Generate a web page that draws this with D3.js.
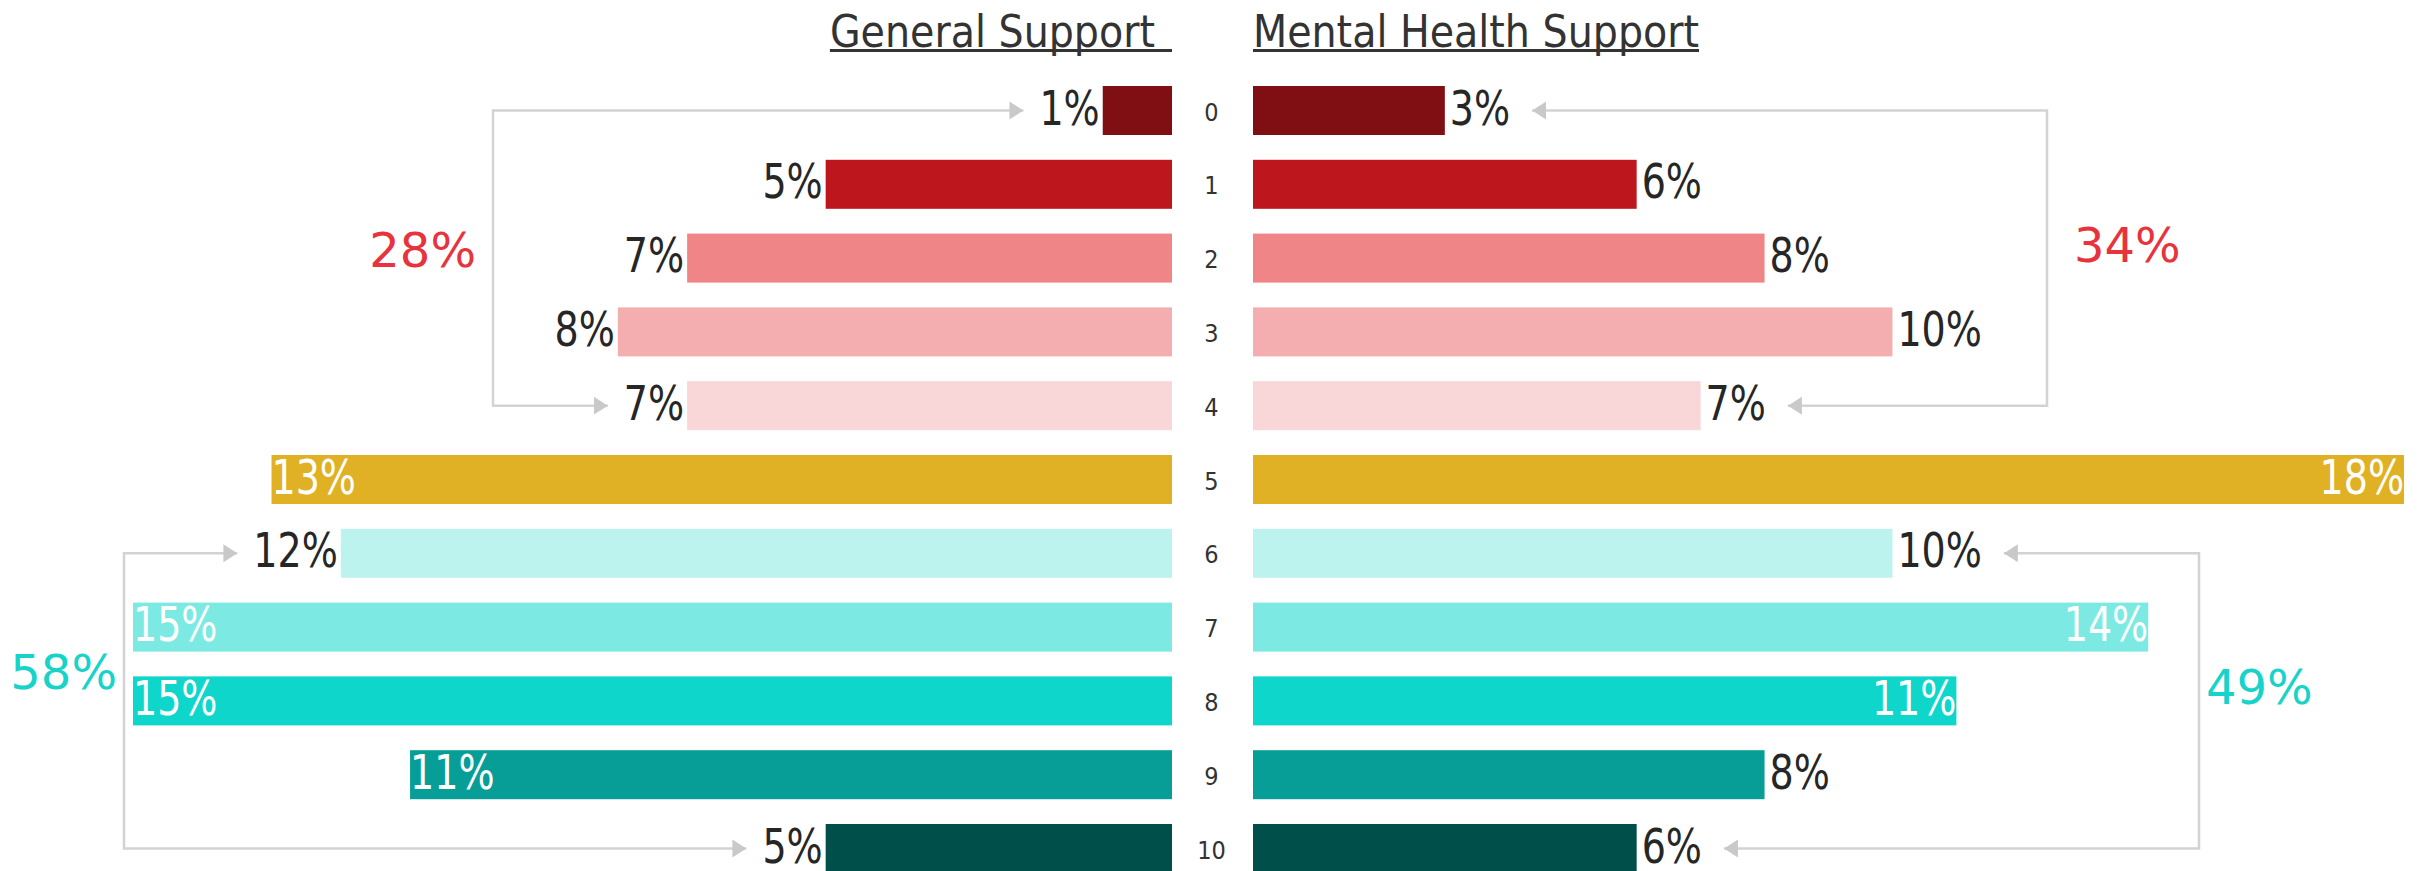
<!DOCTYPE html>
<html>
<head>
<meta charset="utf-8">
<script src="https://cdn.jsdelivr.net/npm/d3@7"></script>
<style>
    body { margin: 0; background: #fff; }
    text { font-family: "DejaVu Sans", sans-serif; }
    .cond { font-family: "DejaVu Sans Condensed", "DejaVu Sans", sans-serif; font-stretch: condensed; }
</style>
</head>
<body>
<svg id="chart"></svg>
<script>
'use strict'

// ---- data ----
const categories = ['0', '1', '2', '3', '4', '5', '6', '7', '8', '9', '10']
const generalSupport = [1, 5, 7, 8, 7, 13, 12, 15, 15, 11, 5]
const mentalHealthSupport = [3, 6, 8, 10, 7, 18, 10, 14, 11, 8, 6]
const rowColors = ['#7f0f12', '#bd161c', '#f08587', '#f4aeb0', '#f9d6d7', '#e1b125',
    '#bdf3ef', '#7ceae2', '#0fd6cb', '#079e98', '#014f4a']
const seriesTitles = ['General Support', 'Mental Health Support']
// brackets: first and last category of each bracketed group
const groupRanges = [[0, 4], [6, 10]]
const groupColors = ['#e8323c', '#17d3c9']

// ---- layout ----
const width = 2432
const height = 871
const leftEdge = 1172     // where the left bars start (growing leftwards)
const rightEdge = 1253    // where the right bars start
const labelSize = 48
const labelSquash = 0.88  // value labels are narrower than DejaVu Condensed

const svg = d3.select('#chart').attr('width', width).attr('height', height)

const y = d3.scaleBand()
    .domain(categories)
    .range([73.6, 73.6 + 11 * 73.8])
    .paddingInner(0.336)
    .paddingOuter(0.168)

const xLeft = d3.scaleLinear().domain([0, d3.max(generalSupport)]).range([0, 1039])
const xRight = d3.scaleLinear().domain([0, d3.max(mentalHealthSupport)]).range([0, 1151])

function isDark(c) {
    return d3.hsl(c).l < 0.8
}

const defs = svg.append('defs')
defs.append('marker')
    .attr('id', 'arrow')
    .attr('viewBox', '0 0 14 18')
    .attr('refX', 14)
    .attr('refY', 9)
    .attr('markerWidth', 14)
    .attr('markerHeight', 18)
    .attr('markerUnits', 'userSpaceOnUse')
    .attr('orient', 'auto-start-reverse')
    .append('path')
    .attr('d', 'M0,0 L14,9 L0,18 Z')
    .attr('fill', '#c9c9c9')

// one side of the butterfly
function drawSide(values, x, side) {
    const g = svg.append('g').attr('class', 'side-' + side)
    const rows = g.selectAll('g.row')
        .data(values.map(function (v, i) { return {v: v, i: i, cat: categories[i]} }))
        .join('g')
        .attr('class', 'row')

    rows.append('rect')
        .attr('x', function (d) { return side === 'left' ? leftEdge - x(d.v) : rightEdge })
        .attr('y', function (d) { return y(d.cat) })
        .attr('width', function (d) { return x(d.v) })
        .attr('height', y.bandwidth())
        .attr('fill', function (d) { return rowColors[d.i] })

    rows.append('text')
        .attr('class', 'cond val')
        .each(function (d) {
            const inside = d.v >= 11 && isDark(rowColors[d.i])
            const end = side === 'left' ? leftEdge - x(d.v) : rightEdge + x(d.v)
            let anchor, tx
            if (side === 'left') {
                anchor = inside ? 'start' : 'end'
                tx = inside ? end : end - 3
            } else {
                anchor = inside ? 'end' : 'start'
                tx = inside ? end : end + 5
            }
            const ty = y(d.cat) + y.bandwidth() / 2 + 14
            d3.select(this)
                .attr('transform', 'translate(' + tx + ',' + ty + ') scale(' + labelSquash + ',1)')
                .attr('text-anchor', anchor)
                .attr('fill', inside ? '#ffffff' : '#262626')
        })
        .attr('font-size', labelSize)
        .text(function (d) { return d.v + '%' })

    return rows
}

const leftRows = drawSide(generalSupport, xLeft, 'left')
const rightRows = drawSide(mentalHealthSupport, xRight, 'right')

// category labels in the gap
svg.append('g')
    .selectAll('text')
    .data(categories)
    .join('text')
    .attr('class', 'cond')
    .attr('x', (leftEdge + rightEdge) / 2 - 1)
    .attr('y', function (d) { return y(d) + y.bandwidth() / 2 + 10 })
    .attr('text-anchor', 'middle')
    .attr('font-size', 25)
    .attr('fill', '#333')
    .text(function (d) { return d })

// underlined titles
function title(text, x, anchor, lineFrom, lineTo) {
    const t = svg.append('text')
        .attr('class', 'cond')
        .attr('x', x)
        .attr('y', 47)
        .attr('text-anchor', anchor)
        .attr('font-size', 44)
        .attr('fill', '#333')
        .text(text)
    const bb = t.node().getBBox()
    const x0 = lineFrom == null ? bb.x : lineFrom
    const x1 = lineTo == null ? bb.x + bb.width : lineTo
    svg.append('rect')
        .attr('x', x0)
        .attr('y', 49)
        .attr('width', x1 - x0)
        .attr('height', 3)
        .attr('fill', '#333')
}
title(seriesTitles[0], leftEdge - 17, 'end', null, leftEdge)
title(seriesTitles[1], rightEdge, 'start', rightEdge, null)

// bracket annotations with group totals
const brackets = [
    {side: 'left', values: generalSupport, rows: leftRows, group: 0, lineX: 493, labelGap: 17, labelDy: -8},
    {side: 'left', values: generalSupport, rows: leftRows, group: 1, lineX: 124, labelGap: 7, labelDy: -29},
    {side: 'right', values: mentalHealthSupport, rows: rightRows, group: 0, lineX: 2047, labelGap: 27, labelDy: -13},
    {side: 'right', values: mentalHealthSupport, rows: rightRows, group: 1, lineX: 2199, labelGap: 7, labelDy: -14},
]

const svgBox = svg.node().getBoundingClientRect()
brackets.forEach(function (b) {
    const [from, to] = groupRanges[b.group]
    const labels = b.rows.selectAll('text').nodes()
    const tip = function (i) {
        const r = labels[i].getBoundingClientRect()
        return b.side === 'left' ? r.left - svgBox.left - 16 : r.right - svgBox.left + 22
    }
    const yTop = y(categories[from]) + y.bandwidth() / 2
    const yBot = y(categories[to]) + y.bandwidth() / 2
    svg.append('path')
        .attr('d', 'M' + tip(from) + ',' + yTop + 'H' + b.lineX + 'V' + yBot + 'H' + tip(to))
        .attr('fill', 'none')
        .attr('stroke', '#d3d3d3')
        .attr('stroke-width', 2.5)
        .attr('marker-start', 'url(#arrow)')
        .attr('marker-end', 'url(#arrow)')

    const total = d3.sum(b.values.slice(from, to + 1))
    svg.append('text')
        .attr('x', b.side === 'left' ? b.lineX - b.labelGap : b.lineX + b.labelGap)
        .attr('y', (yTop + yBot) / 2 + b.labelDy + 17)
        .attr('text-anchor', b.side === 'left' ? 'end' : 'start')
        .attr('font-size', labelSize)
        .attr('fill', groupColors[b.group])
        .text(total + '%')
})
</script>
</body>
</html>
